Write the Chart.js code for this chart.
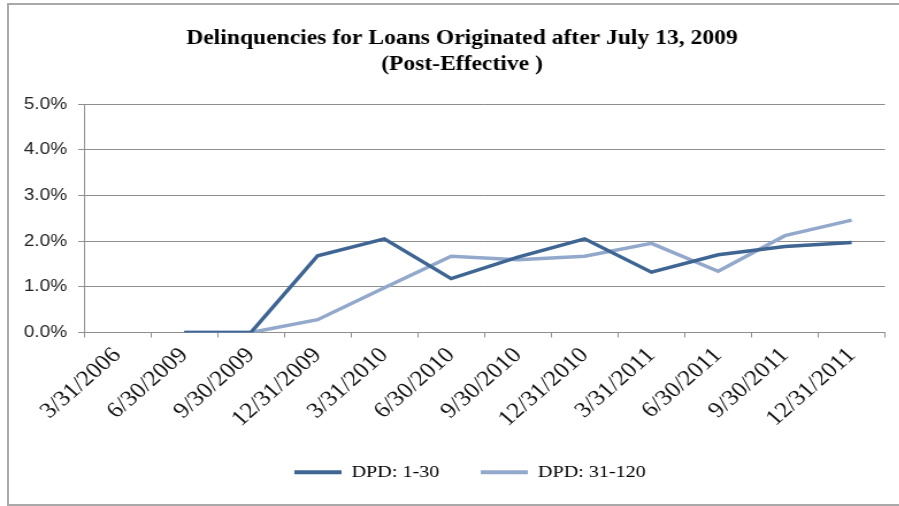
<!DOCTYPE html>
<html>
<head>
<meta charset="utf-8">
<script src="https://cdn.jsdelivr.net/npm/chart.js@4.4.1/dist/chart.umd.min.js"></script>
<style>
  html, body { margin: 0; padding: 0; background: #ffffff; overflow: hidden; width: 899px; height: 506px; }
  #frame { position: absolute; left: 7px; top: 3px; width: 920px; height: 503px; border: 2px solid #a9a9a9; box-sizing: border-box; }
  #wrap { position: absolute; left: 0; top: 0; width: 789px; height: 506px; transform: scaleX(1.15); transform-origin: 0 0; }
  canvas { display: block; }
</style>
</head>
<body>
<div id="frame"></div>
<div id="wrap"><canvas id="c" width="789" height="506"></canvas></div>
<script>
// ---- data ----
const categories = ['3/31/2006', '6/30/2009', '9/30/2009', '12/31/2009', '3/31/2010', '6/30/2010',
                    '9/30/2010', '12/31/2010', '3/31/2011', '6/30/2011', '9/30/2011', '12/31/2011'];
const dpd1to30   = [null, 0, 0, 1.68, 2.05, 1.18, 1.65, 2.05, 1.32, 1.70, 1.88, 1.97];
const dpd31to120 = [null, 0, 0, 0.28, 0.98, 1.67, 1.59, 1.67, 1.95, 1.34, 2.12, 2.46];
const seriesNames = ['DPD: 1-30', 'DPD: 31-120'];
const yTickValues = [0, 1, 2, 3, 4, 5];
const titleLines = ['Delinquencies for Loans Originated after July 13, 2009', '(Post-Effective )'];

const DARK = '#3f6592';
const LIGHT = '#93a9cb';
const GRID = '#8e8e8e';

// moves the legend row into the free space under the rotated category labels
const legendShift = {
  id: 'legendShift',
  afterLayout(chart) {
    const lg = chart.legend;
    if (lg) { lg.top -= 15; lg.bottom -= 15; lg.left -= 12.5; lg.right -= 12.5; }
  }
};

new Chart(document.getElementById('c'), {
  type: 'line',
  data: {
    labels: categories,
    datasets: [
      { label: seriesNames[0], data: dpd1to30, borderColor: DARK, backgroundColor: DARK,
        borderWidth: 3.5, pointRadius: 0, tension: 0, spanGaps: false },
      { label: seriesNames[1], data: dpd31to120, borderColor: LIGHT, backgroundColor: LIGHT,
        borderWidth: 3.5, pointRadius: 0, tension: 0, spanGaps: false }
    ]
  },
  plugins: [legendShift],
  options: {
    responsive: false,
    animation: false,
    devicePixelRatio: 1,
    layout: { padding: { left: 15, right: 0.6, top: 0, bottom: 0 } },
    plugins: {
      tooltip: { enabled: false },
      title: {
        display: true,
        text: titleLines,
        color: '#000',
        font: { family: 'Liberation Serif', size: 20.5, weight: 'bold', lineHeight: 1.27 },
        padding: { top: 25.3, bottom: 26.7 }
      },
      legend: {
        position: 'bottom',
        fullSize: false,
        labels: {
          color: '#000',
          font: { family: 'Liberation Serif', size: 17.5 },
          boxWidth: 41,
          boxHeight: 4,
          padding: 36,
          generateLabels(chart) {
            return chart.data.datasets.map((ds, i) => ({
              text: ds.label, fillStyle: ds.borderColor, strokeStyle: ds.borderColor,
              lineWidth: 0, hidden: false, datasetIndex: i, fontColor: '#000'
            }));
          }
        }
      }
    },
    scales: {
      x: {
        offset: true,
        grid: { display: true, drawOnChartArea: false, drawTicks: true, tickLength: 5, color: GRID, offset: true },
        border: { display: true, color: GRID, width: 1 },
        ticks: {
          autoSkip: false, minRotation: 45, maxRotation: 45, padding: 5,
          color: '#111', font: { family: 'Liberation Serif', size: 22 }
        },
        afterFit(scale) { scale.height = 110; }
      },
      y: {
        min: 0, max: 5,
        afterBuildTicks(scale) { scale.ticks = yTickValues.map(v => ({ value: v })); },
        grid: { color: GRID, lineWidth: 1, tickLength: 5, drawTicks: true },
        border: { display: true, color: GRID, width: 1 },
        ticks: {
          padding: 9.7, color: '#222',
          font: { family: 'Liberation Sans', size: 16.5 },
          callback: (v) => Number(v).toFixed(1) + '%'
        },
        afterFit(scale) { scale.width = 58; }
      },
      yRightSpace: {
        type: 'linear', position: 'right', display: true, min: 0, max: 1,
        grid: { display: false }, border: { display: false }, ticks: { display: false },
        afterFit(scale) { scale.width = 18.8; }
      }
    }
  }
});
</script>
</body>
</html>
